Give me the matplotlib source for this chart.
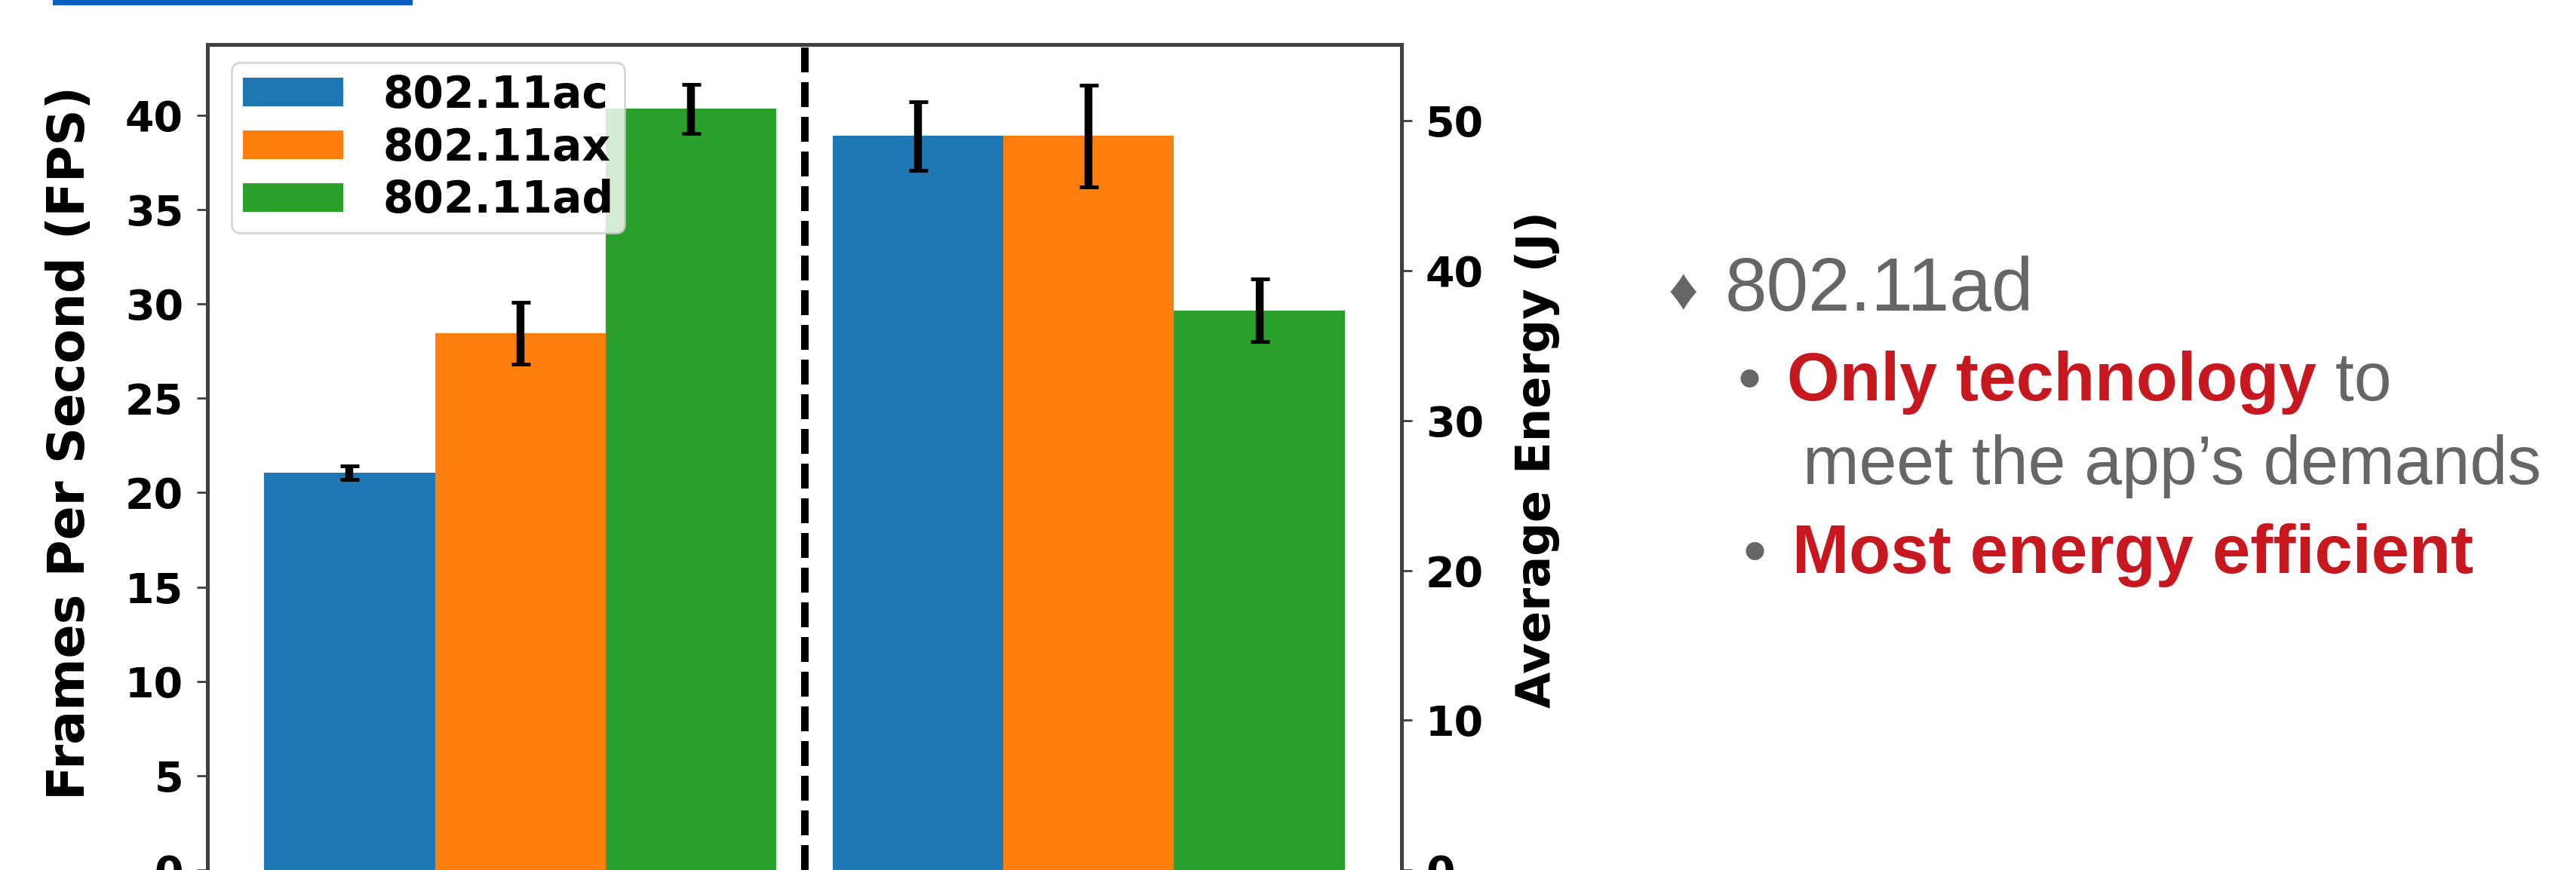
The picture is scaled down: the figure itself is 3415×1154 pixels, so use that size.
import matplotlib
matplotlib.use("Agg")
import matplotlib.pyplot as plt
from matplotlib.patches import Rectangle

W, H = 3416, 1154

# measured results: frame rate (left) and energy (right) per Wi-Fi standard
techs = ['802.11ac', '802.11ax', '802.11ad']
fps = [21.05, 28.45, 40.35]
fps_err = [0.35, 1.65, 1.3]
energy = [49.0, 49.0, 37.35]
energy_err = [2.3, 3.4, 2.1]
fps_ticks = [0, 5, 10, 15, 20, 25, 30, 35, 40]
energy_ticks = [0, 10, 20, 30, 40, 50]

colors = ['#1f77b4', '#ff7f0e', '#2ca02c']
offsets = [-0.3, 0.0, 0.3]
width = 0.3
gray = '#666666'
red = '#C8181F'
spine_col = '#404040'

def fx(px):
    return px / W

def fy(py):
    return 1 - py / H

fig = plt.figure(figsize=(W / 100, H / 100), dpi=100)

# blue rule left over from the slide heading
fig.add_artist(Rectangle((fx(70), fy(7)), fx(547) - fx(70), 7 / H,
                         transform=fig.transFigure, color='#0a5ec4', lw=0))

ax = fig.add_axes([fx(275), 0.0, fx(1858) - fx(275), 1 - 59 / H])
ax2 = ax.twinx()

err_style = dict(elinewidth=7.5, capsize=9, capthick=3.5, ecolor='black')
for i in range(3):
    ax.bar(0 + offsets[i], fps[i], width, yerr=fps_err[i], color=colors[i],
           label=techs[i], error_kw=err_style)
    ax2.bar(1 + offsets[i], energy[i], width, yerr=energy_err[i], color=colors[i],
            error_kw=err_style)

ax.axvline(0.5, color='black', lw=7.2, linestyle=(0, (3.3, 1.3)))

ax.set_xlim(-0.55, 1.55)
ax.set_ylim(0, 43.75)
ax2.set_ylim(0, 55.1)
ax.set_xticks([])
ax.set_yticks(fps_ticks)
ax2.set_yticks(energy_ticks)

for a in (ax, ax2):
    for s in a.spines.values():
        s.set_linewidth(3.5)
        s.set_color(spine_col)
    a.spines['bottom'].set_visible(False)
    a.tick_params(axis='y', length=10, width=2, color=spine_col, pad=13,
                  labelsize=40)
    for lab in a.get_yticklabels():
        lab.set_fontweight('bold')

ax.set_ylabel('Frames Per Second (FPS)', fontsize=48, fontweight='bold')
ax.yaxis.set_label_coords(-0.094, 0.517)
ax2.set_ylabel('Average Energy (J)', fontsize=45, fontweight='bold')
ax2.yaxis.set_label_coords(1.095, 0.497)

leg = ax.legend(loc='upper left', bbox_to_anchor=(0.0202, 0.978), borderaxespad=0,
                prop={'weight': 'bold', 'size': 42}, handlelength=2.28,
                handleheight=0.62, handletextpad=0.9, borderpad=0.25,
                labelspacing=0.22, fancybox=True, framealpha=0.8, edgecolor='0.8')
leg.get_frame().set_linewidth(2)

# slide bullet points
font = ['Liberation Sans', 'DejaVu Sans']
fig.text(fx(2212), fy(410), '\u2666', color=gray, size=56, family=font, va='baseline')
fig.text(fx(2287), fy(412), '802.11ad', color=gray, size=72, family=font, va='baseline')
fig.text(fx(2304), fy(531), '\u2022', color=gray, size=64, family=font, va='baseline')
t1 = fig.text(fx(2369), fy(531), 'Only technology', color=red, size=64.5,
              weight='bold', family=font, va='baseline')
fig.text(fx(2390), fy(642), 'meet the app\u2019s demands', color=gray, size=64.5,
         family=font, va='baseline')
fig.text(fx(2311), fy(760), '\u2022', color=gray, size=64, family=font, va='baseline')
fig.text(fx(2376), fy(760), 'Most energy efficient', color=red, size=65,
         weight='bold', family=font, va='baseline')

fig.canvas.draw()
bb = t1.get_window_extent()
fig.text(bb.x1 / W, fy(531), ' to', color=gray, size=64.5, family=font, va='baseline')

fig.savefig('out.png', dpi=100)
